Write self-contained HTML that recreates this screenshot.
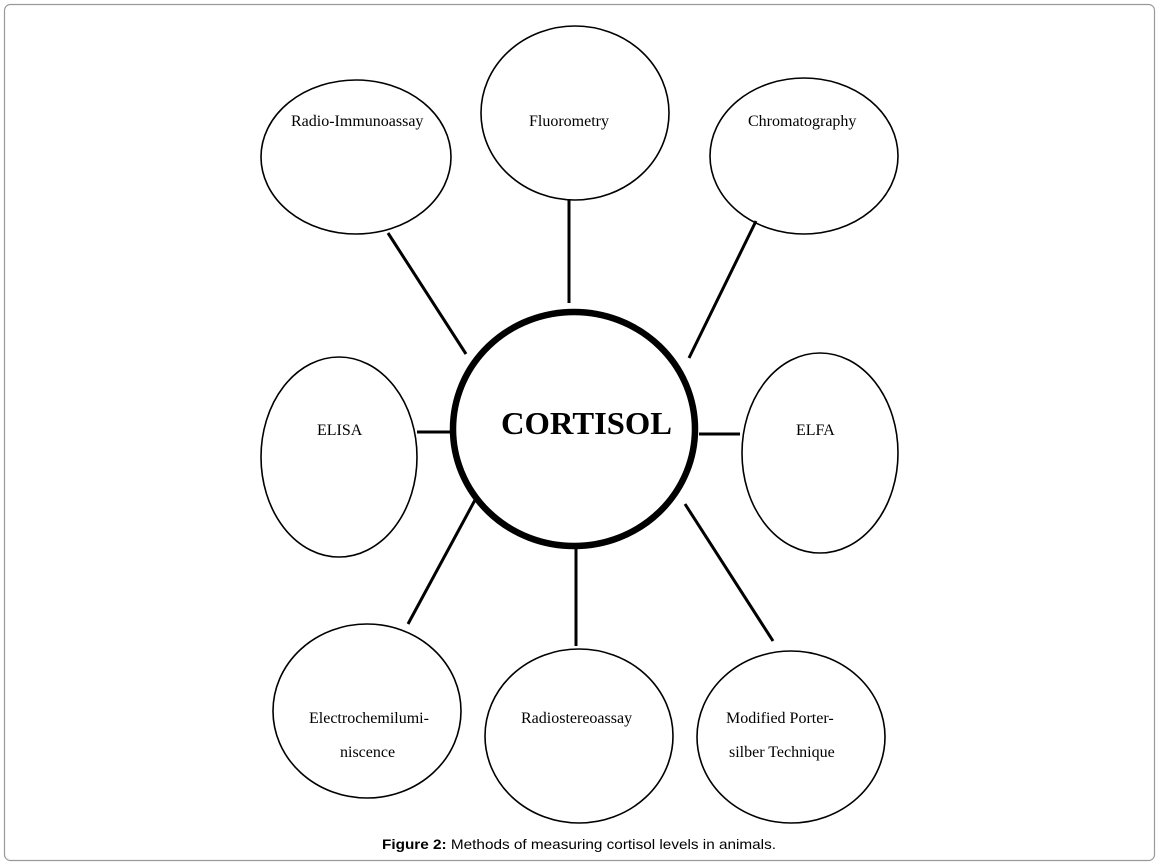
<!DOCTYPE html>
<html><head><meta charset="utf-8"><style>
html,body{margin:0;padding:0;background:#fff;}
svg{display:block;}
</style></head><body>
<svg width="1160" height="866" viewBox="0 0 1160 866" xmlns="http://www.w3.org/2000/svg">
<rect x="4.5" y="4.5" width="1150" height="856" rx="6" fill="#fff" stroke="#999" stroke-width="1.2"/>
<g fill="none" stroke="#000" stroke-width="1.6">
<ellipse cx="356" cy="157" rx="95" ry="77"/>
<ellipse cx="575" cy="113" rx="94" ry="87"/>
<ellipse cx="804" cy="156" rx="94" ry="78"/>
<ellipse cx="339" cy="457" rx="78" ry="100"/>
<ellipse cx="820" cy="453" rx="78" ry="100"/>
<ellipse cx="367" cy="711" rx="94" ry="87"/>
<ellipse cx="579" cy="736" rx="94" ry="87"/>
<ellipse cx="791" cy="737" rx="94" ry="86"/>
</g>
<ellipse cx="574" cy="429" rx="121" ry="117" fill="#fff" stroke="#000" stroke-width="6.5"/>
<g stroke="#000" stroke-width="3">
<line x1="388" y1="233" x2="466" y2="354"/>
<line x1="569" y1="199" x2="569" y2="303"/>
<line x1="756" y1="221" x2="689" y2="358"/>
<line x1="417" y1="432" x2="452" y2="432"/>
<line x1="699" y1="434" x2="740" y2="434"/>
<line x1="475" y1="500" x2="408" y2="624"/>
<line x1="576" y1="548" x2="576" y2="646"/>
<line x1="685" y1="504" x2="773" y2="641"/>
</g>
<g font-family="Liberation Serif, serif" font-size="16" fill="#000">
<text x="291" y="126">Radio-Immunoassay</text>
<text x="529" y="126">Fluorometry</text>
<text x="748" y="126">Chromatography</text>
<text x="317" y="435">ELISA</text>
<text x="796" y="435">ELFA</text>
<text x="309" y="723">Electrochemilumi-</text>
<text x="340" y="757">niscence</text>
<text x="521" y="723">Radiostereoassay</text>
<text x="726" y="723">Modified Porter-</text>
<text x="729" y="757">silber Technique</text>
</g>
<text x="501" y="434" font-family="Liberation Serif, serif" font-weight="bold" font-size="32" textLength="171" lengthAdjust="spacingAndGlyphs">CORTISOL</text>
<text x="382" y="849" font-family="Liberation Sans, sans-serif" font-size="14" textLength="394" lengthAdjust="spacingAndGlyphs"><tspan font-weight="bold">Figure 2:</tspan> Methods of measuring cortisol levels in animals.</text>
</svg>
</body></html>
